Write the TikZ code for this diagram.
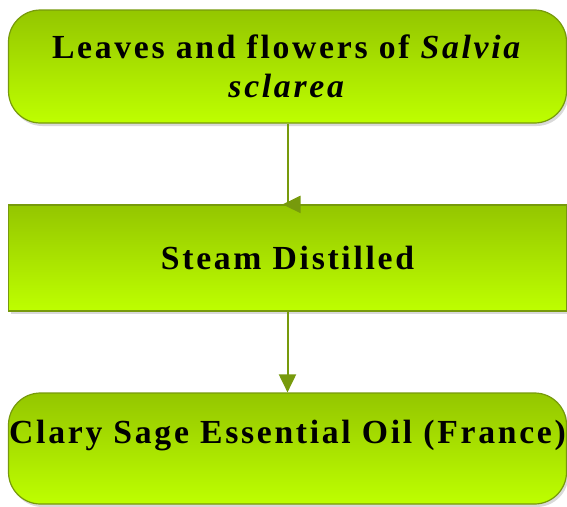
\documentclass[tikz,border=0pt]{standalone}
\usepackage{fontspec}
\setmainfont{Liberation Serif}[LetterSpace=8]
\usetikzlibrary{arrows.meta,shadows}
\definecolor{sagetop}{HTML}{94C600}
\definecolor{sagebot}{HTML}{BEFF00}
\definecolor{stem}{HTML}{779A0C}
\tikzset{box/.style = {draw=stem, line width=1.2pt, top color=sagetop, bottom color=sagebot, minimum width=558pt, inner sep=0pt, align=center, drop shadow={opacity=0.3, shadow xshift=2pt, shadow yshift=-3pt}}}
\tikzset{flow/.style = {-{Triangle[length=18pt,width=17pt]}, draw=stem, line width=2pt}}

\begin{document}
\begin{tikzpicture}[x=1pt, y=-1pt, font=\bfseries\fontsize{33.7}{39}\selectfont]
      \useasboundingbox (0,0) rectangle (567,506);
      \node[box, rounded corners=32pt, minimum height=113pt] (leaf) at (287.5,66.5) {Leaves and flowers of \textit{Salvia}\\ \textit{sclarea}};
      \node[box, minimum height=106pt] (dist) at (287.5,258) {Steam Distilled};
      \node[box, rounded corners=32pt, minimum height=111pt, text height=23pt, text depth=34pt] (oil) at (287.5,448.5) {Clary Sage Essential Oil (France)};

      \draw[flow] (leaf.south) -- (dist.north) -- ++(-5,0);
      \draw[flow] (dist) -- (oil);
    \end{tikzpicture}
\end{document}
